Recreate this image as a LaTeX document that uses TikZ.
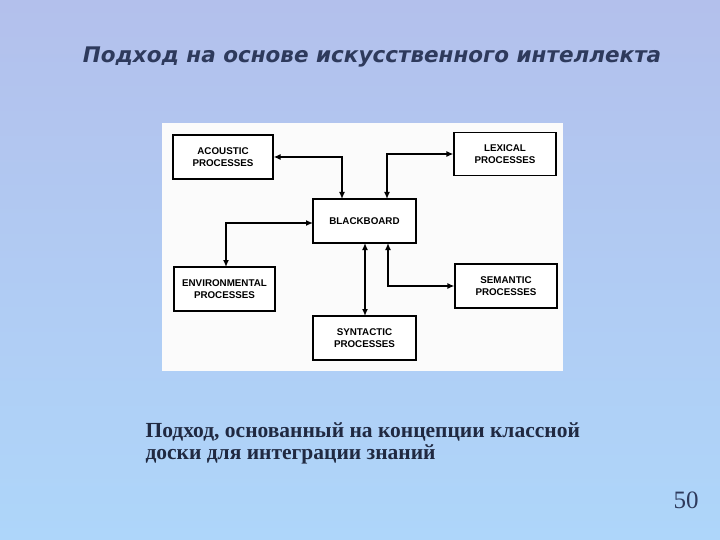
\documentclass[tikz,border=0pt]{standalone}
\usepackage{fontspec}
\usetikzlibrary{arrows.meta}
\setmainfont{Liberation Serif}
\newfontfamily\titlefont{DejaVu Sans}
\newfontfamily\boxfont{Liberation Sans}
\definecolor{topc}{HTML}{B3C0EC}
\definecolor{botc}{HTML}{AED6FA}
\definecolor{titc}{HTML}{2E3A5C}
\begin{document}
\begin{tikzpicture}[x=1pt,y=-1pt,
  proc/.style={draw=black,line width=1.3pt,fill=white,font=\boxfont\bfseries\fontsize{9.8}{11.5}\selectfont,align=center,inner sep=0pt},
  link/.style={line width=1.3pt,{Latex[length=7pt,width=6pt]}-{Latex[length=7pt,width=6pt]}}]
\shade[top color=topc,bottom color=botc] (0,0) rectangle (720,540);
\useasboundingbox (0,0) rectangle (720,540);
\node[font=\titlefont\bfseries\itshape\fontsize{21.5}{24}\selectfont,text=titc] (title) at (372,57) {Подход на основе искусственного интеллекта};
\fill[white!97!gray] (162,123) rectangle (563,371);
\node[proc,minimum width=100pt,minimum height=44pt] (ac) at (223,157) {ACOUSTIC\\PROCESSES};
\node[proc,minimum width=102pt,minimum height=43pt] (lx) at (505,154) {LEXICAL\\PROCESSES};
\node[proc,minimum width=103pt,minimum height=44pt] (bb) at (364.5,221) {BLACKBOARD};
\node[proc,minimum width=101pt,minimum height=44pt] (en) at (224.5,289) {ENVIRONMENTAL\\PROCESSES};
\node[proc,minimum width=102pt,minimum height=44pt] (se) at (506,286) {SEMANTIC\\PROCESSES};
\node[proc,minimum width=103pt,minimum height=44pt] (sy) at (364.5,338) {SYNTACTIC\\PROCESSES};
\draw[link] (ac.east) -- (342,157) -- (342,199);
\draw[link] (387,199) -- (387,154) -- (lx.west);
\draw[link] (313,223) -- (226,223) -- (226,267);
\draw[link] (388,243) -- (388,286) -- (se.west);
\draw[link] (365,243) -- (365,316);
\node[anchor=west,align=left,font=\bfseries\fontsize{21.5}{22}\selectfont,text=titc!70!black] (cap) at (142,443) {Подход, основанный на концепции классной\\доски для интеграции знаний};
\node[font=\fontsize{25}{28}\selectfont,text=titc] (num) at (686,500) {50};
\end{tikzpicture}
\end{document}
